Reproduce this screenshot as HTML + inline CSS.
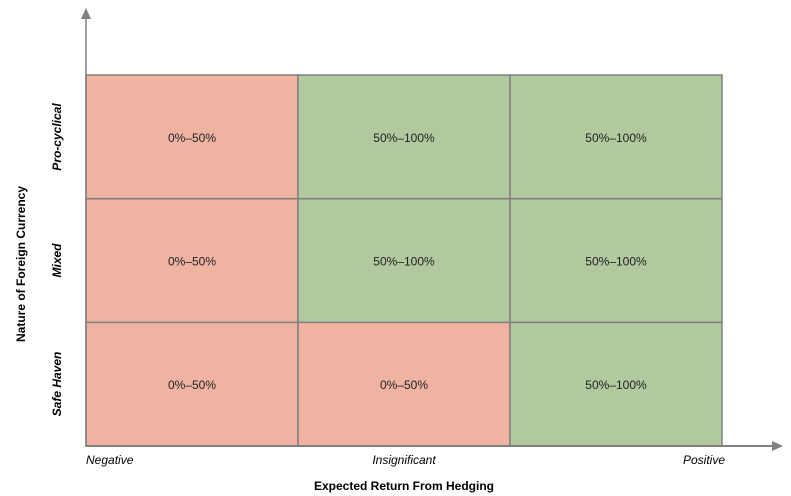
<!DOCTYPE html>
<html><head><meta charset="utf-8"><style>
body{margin:0;background:#fff;}
svg{display:block;font-family:"Liberation Sans",Arial,sans-serif;}
</style></head><body>
<svg id="chart" width="791" height="496" xmlns="http://www.w3.org/2000/svg"></svg>
<script>
const xCategories = ["Negative","Insignificant","Positive"];
const yCategories = ["Safe Haven","Mixed","Pro-cyclical"];
const cellLabels = [
  ["0%\u201350%","0%\u201350%","50%\u2013100%"],
  ["0%\u201350%","50%\u2013100%","50%\u2013100%"],
  ["0%\u201350%","50%\u2013100%","50%\u2013100%"]
];
const cellClasses = [
  ["low","low","high"],
  ["low","high","high"],
  ["low","high","high"]
];
const svg = document.getElementById('chart');
const NS = 'http://www.w3.org/2000/svg';
const X0=86,X1=722,Y0=446,Y1=75;
const cw=(X1-X0)/xCategories.length, ch=(Y0-Y1)/yCategories.length;
const xPos=i=>X0+i*cw, yPos=j=>Y0-(j+1)*ch;
const colors={low:"#f0b3a2",high:"#b2c89f"};
function mk(tag,attrs){const e=document.createElementNS(NS,tag);for(const k in attrs)e.setAttribute(k,attrs[k]);svg.appendChild(e);return e;}
for(let j=0;j<yCategories.length;j++){
  for(let i=0;i<xCategories.length;i++){
    const r=mk('rect',{x:xPos(i),y:yPos(j),width:cw,height:ch,fill:colors[cellClasses[j][i]],stroke:"#808080","stroke-width":1.5});
    
    
    const t=mk('text',{x:xPos(i)+cw/2,y:yPos(j)+ch/2+5,"text-anchor":"middle","font-size":12,fill:"#222"});
    t.textContent=cellLabels[j][i];
    
    
  }
}
// axes
const ya=mk('line',{x1:X0,y1:Y0,x2:X0,y2:18,stroke:"#808080","stroke-width":1.5});


const yh=mk('polygon',{points:`${X0-5},19 ${X0+5},19 ${X0},8`,fill:"#808080"});


const xa=mk('line',{x1:X0,y1:Y0,x2:773,y2:Y0,stroke:"#808080","stroke-width":2});


const xh=mk('polygon',{points:`772,${Y0-5} 772,${Y0+5} 783,${Y0}`,fill:"#808080"});


// x tick labels
const xAnchors=["start","middle","end"];
const xAt=[X0,X0+(X1-X0)/2,X1];
xCategories.forEach((c,i)=>{
  const t=mk('text',{x:xAt[i]+(i==0?0:(i==2?3:0)),y:464,"text-anchor":xAnchors[i],"font-size":12,"font-style":"italic",fill:"#000"});
  t.textContent=c;
  
  
});
// y tick labels
yCategories.forEach((c,j)=>{
  const cy=yPos(j)+ch/2, ly=j==1?cy:(j==0?Y0-62:Y1+62);
  const t=mk('text',{x:0,y:0,"text-anchor":"middle","font-size":12,"font-style":"italic","font-weight":"bold",fill:"#000",transform:`translate(61,${ly}) rotate(-90)`});
  t.textContent=c;
  
  
});
const xt=mk('text',{x:404,y:490,"text-anchor":"middle","font-size":12,"font-weight":"bold",fill:"#000"});
xt.textContent="Expected Return From Hedging";


const yt=mk('text',{x:0,y:0,"text-anchor":"middle","font-size":12,"font-weight":"bold",fill:"#000",transform:"translate(25,264) rotate(-90)"});
yt.textContent="Nature of Foreign Currency";


</script>
</body></html>
